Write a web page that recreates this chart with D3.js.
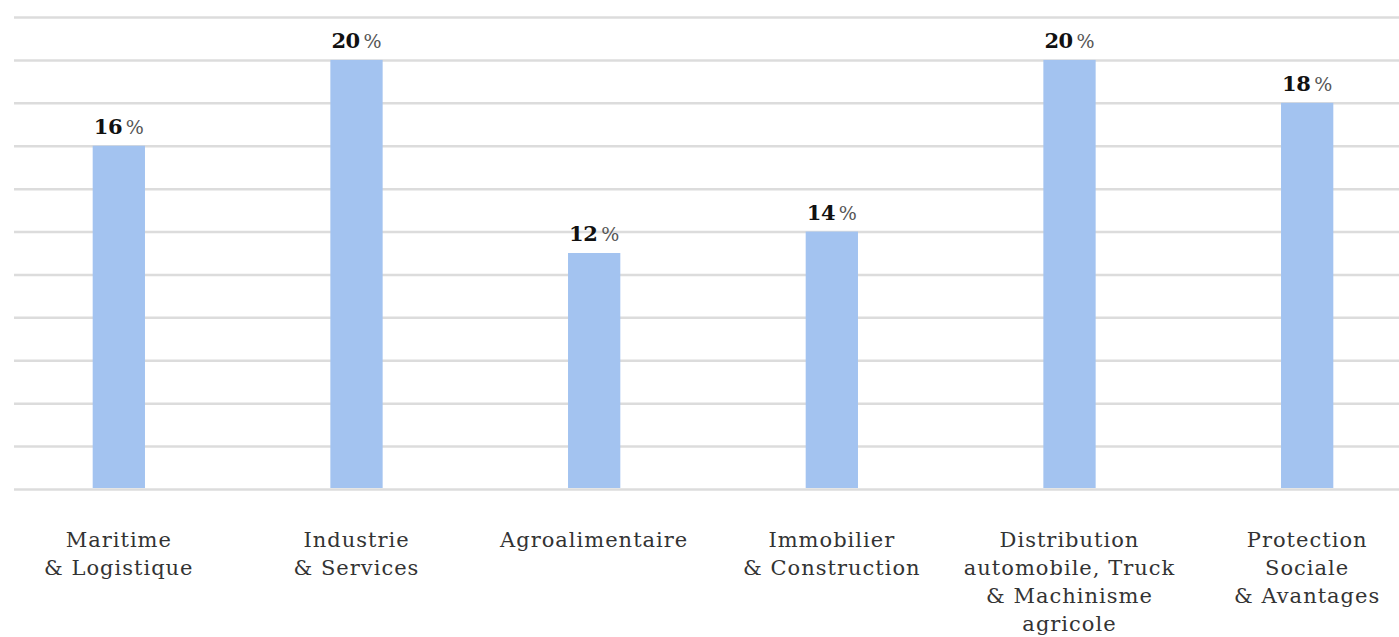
<!DOCTYPE html>
<html>
<head>
<meta charset="utf-8">
<script src="https://cdn.jsdelivr.net/npm/d3@7"></script>
<style>
  body { margin: 0; background: #fff; }
  svg { display: block; }
</style>
</head>
<body>
<svg></svg>
<script>
// secteurs, hauteur des barres et etiquettes affichees
const sectors = [
  "Maritime & Logistique",
  "Industrie & Services",
  "Agroalimentaire",
  "Immobilier & Construction",
  "Distribution automobile, Truck & Machinisme agricole",
  "Protection Sociale & Avantages"
];
const sectorLines = [
  ["Maritime", "& Logistique"],
  ["Industrie", "& Services"],
  ["Agroalimentaire"],
  ["Immobilier", "& Construction"],
  ["Distribution", "automobile, Truck", "& Machinisme", "agricole"],
  ["Protection", "Sociale", "& Avantages"]
];
const barValues = [16, 20, 11, 12, 20, 18];
const valueLabels = ["16", "20", "12", "14", "20", "18"];
const gridTicks = [0, 2, 4, 6, 8, 10, 12, 14, 16, 18, 20, 22];

const width = 1399;
const height = 637;
const baseY = 489;

const svg = d3.select("svg").attr("width", width).attr("height", height);

const x = d3
  .scaleBand()
  .domain(sectors)
  .range([0, 1426])
  .paddingInner(0.78)
  .paddingOuter(0.39);

const y = d3.scaleLinear().domain([0, 22]).range([baseY, 17]);

// lignes de grille
const yAxis = d3
  .axisLeft(y)
  .tickValues(gridTicks)
  .tickSize(-(width + 10 - 14))
  .tickFormat("");

svg
  .append("g")
  .attr("transform", "translate(14,0)")
  .call(yAxis)
  .call((g) => g.select(".domain").remove())
  .call((g) =>
    g.selectAll(".tick line").attr("stroke", "#dcdcdc").attr("stroke-width", 2.5)
  );

// barres
svg
  .selectAll("rect.bar")
  .data(sectors)
  .enter()
  .append("rect")
  .attr("class", "bar")
  .attr("x", (d) => x(d))
  .attr("width", x.bandwidth())
  .attr("y", (d, i) => y(barValues[i]))
  .attr("height", (d, i) => y(0) - y(barValues[i]) - 1)
  .attr("fill", "#a3c3f0");

// valeurs
const vals = svg
  .selectAll("text.val")
  .data(sectors)
  .enter()
  .append("text")
  .attr("class", "val")
  .attr("x", (d) => x(d) + x.bandwidth() / 2)
  .attr("y", (d, i) => y(barValues[i]) - 12)
  .attr("text-anchor", "middle")
  .style("font-family", "'DejaVu Serif', serif")
  .style("font-size", "21px")
  .attr("fill", "#111");
vals
  .append("tspan")
  .style("font-weight", "bold")
  .style("letter-spacing", "-0.5px")
  .text((d, i) => valueLabels[i]);
vals
  .append("tspan")
  .attr("fill", "#555")
  .style("font-size", "19px")
  .text("\u2009%");

// categories
const cats = svg
  .selectAll("text.cat")
  .data(sectors)
  .enter()
  .append("text")
  .attr("class", "cat")
  .attr("x", (d) => x(d) + x.bandwidth() / 2)
  .attr("y", 547)
  .attr("text-anchor", "middle")
  .style("font-family", "'DejaVu Serif', serif")
  .style("font-size", "21px")
  .style("letter-spacing", "1px")
  .attr("fill", "#333");
cats
  .selectAll("tspan")
  .data((d, i) => sectorLines[i])
  .enter()
  .append("tspan")
  .attr("x", function () {
    return this.parentNode.getAttribute("x");
  })
  .attr("dy", (d, j) => (j === 0 ? 0 : 28))
  .text((d) => d);
</script>
</body>
</html>
